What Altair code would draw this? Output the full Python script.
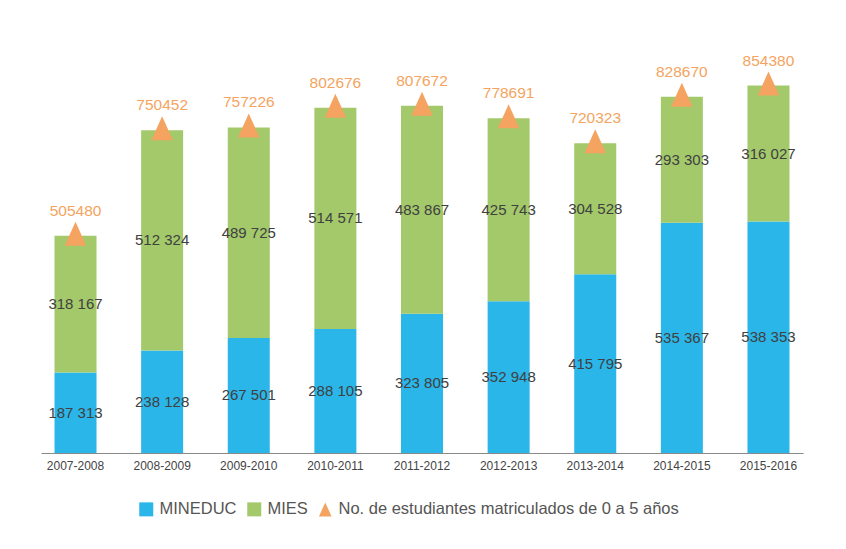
import altair as alt
import pandas as pd

years = ["2007-2008", "2008-2009", "2009-2010", "2010-2011", "2011-2012",
         "2012-2013", "2013-2014", "2014-2015", "2015-2016"]
mineduc = [187313, 238128, 267501, 288105, 323805, 352948, 415795, 535367, 538353]
mies = [318167, 512324, 489725, 514571, 483867, 425743, 304528, 293303, 316027]
totals = [505480, 750452, 757226, 802676, 807672, 778691, 720323, 828670, 854380]

S1 = "MINEDUC"
S2 = "MIES"
S3 = "No. de estudiantes matriculados de 0 a 5 años"

BLUE = "#2BB6E9"
GREEN = "#A3C96B"
ORANGE = "#F4A460"
FONT = "Liberation Sans"


def fmt(v):
    return f"{v:,}".replace(",", " ")


rows = []
for yr, a, b in zip(years, mineduc, mies):
    rows.append({"year": yr, "serie": S1, "start": 0, "end": a, "mid": a / 2, "label": fmt(a), "o": 0})
    rows.append({"year": yr, "serie": S2, "start": a, "end": a + b, "mid": a + b / 2, "label": fmt(b), "o": 1})
bars_df = pd.DataFrame(rows)
tot_df = pd.DataFrame({"year": years, "total": totals, "serie": [S3] * len(years)})

domain = [S1, S2, S3]
color_scale = alt.Scale(domain=domain, range=[BLUE, GREEN, ORANGE])
tri = "M0,-1L-0.9,1L0.9,1Z"
shape_scale = alt.Scale(domain=domain, range=["square", "square", tri])

legend = alt.Legend(title=None, orient="none", direction="horizontal",
                    legendX=97, legendY=435,
                    symbolSize=196, labelFontSize=16.5, labelColor="#555555",
                    labelFont=FONT, columnPadding=9, labelOffset=5,
                    symbolStrokeWidth=0, labelLimit=500)

xenc = alt.X("year:N", sort=years,
             scale=alt.Scale(paddingInner=0.515, paddingOuter=0.156),
             axis=alt.Axis(title=None, labelAngle=0, ticks=False,
                           domainColor="#8a8a8a", labelFontSize=12,
                           labelColor="#444444", labelFont=FONT,
                           labelPadding=7))
yscale = alt.Scale(domain=[0, 900000])

bars = alt.Chart(bars_df).mark_bar(opacity=1).encode(
    x=xenc,
    y=alt.Y("start:Q", scale=yscale, axis=None),
    y2="end:Q",
    color=alt.Color("serie:N", scale=color_scale, legend=legend),
    order=alt.Order("o:Q"),
)

inner = alt.Chart(bars_df).mark_text(fontSize=15, color="#404040", font=FONT).encode(
    x=alt.X("year:N", sort=years),
    y=alt.Y("mid:Q", scale=yscale),
    text="label:N",
)

points = alt.Chart(tot_df).mark_point(filled=True, opacity=1, size=576, yOffset=-2).encode(
    x=alt.X("year:N", sort=years),
    y=alt.Y("total:Q", scale=yscale),
    color=alt.Color("serie:N", scale=color_scale, legend=legend),
    shape=alt.Shape("serie:N", scale=shape_scale, legend=legend),
)

top_text = alt.Chart(tot_df).mark_text(fontSize=15.5, color=ORANGE, dy=-25, font=FONT).encode(
    x=alt.X("year:N", sort=years),
    y=alt.Y("total:Q", scale=yscale),
    text=alt.Text("total:Q", format="d"),
)

chart = alt.layer(bars, inner, points, top_text).properties(
    width=762, height=387,
    padding={"left": 33, "top": 45, "right": 5, "bottom": 5},
).configure(font=FONT, view=alt.ViewConfig(stroke=None))

chart.save("out.html", embed_options={"renderer": "svg", "actions": False})
